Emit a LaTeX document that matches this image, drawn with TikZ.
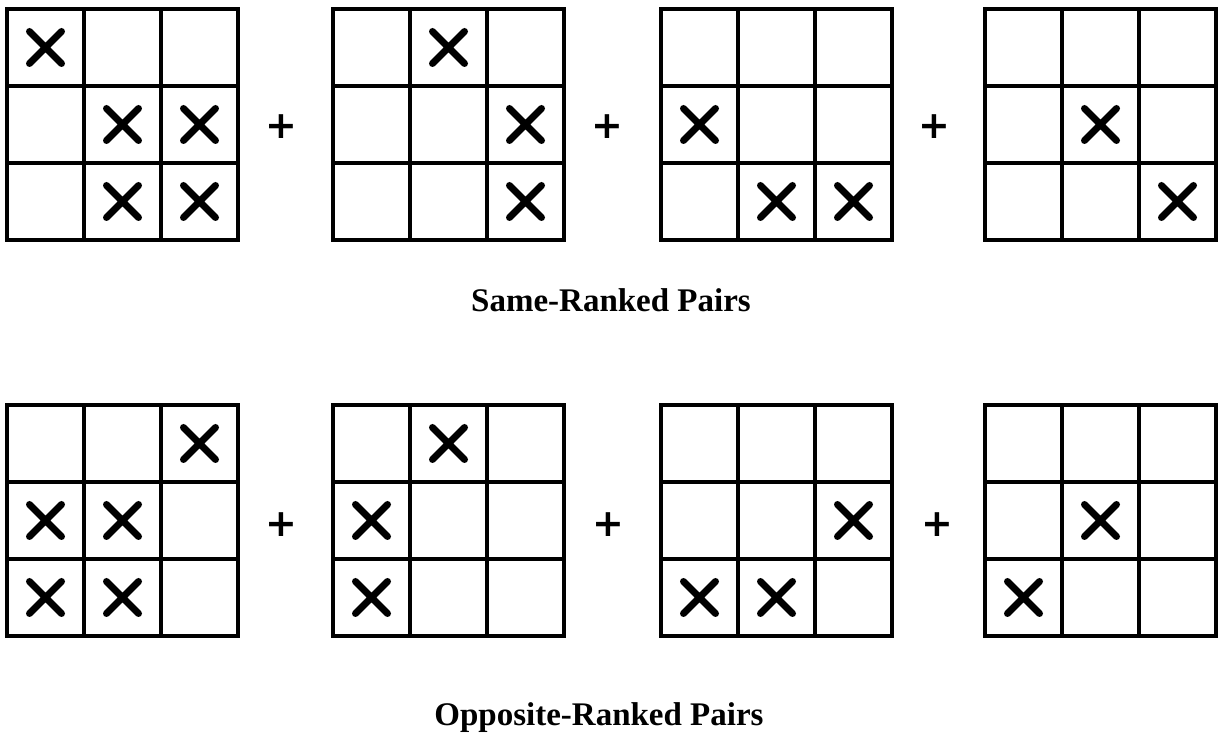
\documentclass[tikz,border=0pt]{standalone}
\usepackage{fontspec}
\setmainfont{Liberation Serif}
\newfontfamily\plusfont{DejaVu Sans}
\usepackage{tikz}
\usetikzlibrary{positioning}

% one 3x3 board: lower left corner, list of col/row cells holding a cross
\newcommand{\board}[3]{%
  \begin{scope}[shift={(#1,#2)}]
    \foreach \k in {1,2} {
      \draw[cellline] (\k*77,0) -- (\k*77,231);
      \draw[cellline] (0,\k*77) -- (231,\k*77);
    }
    \draw[frame] (0,0) rectangle (231,231);
    \foreach \c/\r in {#3}
      \draw[cross] ({(\c-.5)*77-16},{(3.5-\r)*77-16}) -- ++(32,32)
                   ({(\c-.5)*77-16},{(3.5-\r)*77+16}) -- ++(32,-32);
  \end{scope}}

\begin{document}
\begin{tikzpicture}[
  x=1pt, y=1pt,
  cellline/.style={line width=3.6pt},
  frame/.style={line width=4.4pt, line join=miter},
  cross/.style={line width=7pt, line cap=round},
  plus/.style={font=\plusfont\bfseries\fontsize{38}{38}\selectfont, inner sep=0pt},
  caption/.style={font=\bfseries\fontsize{33}{33}\selectfont, inner sep=0pt, anchor=base}
]
\useasboundingbox[fill=white] (0,0) rectangle (1223,744);

% same-ranked pairs
\board{7}{504}{1/1,2/2,3/2,2/3,3/3}
\board{333}{504}{2/1,3/2,3/3}
\board{661}{504}{1/2,2/3,3/3}
\board{985}{504}{2/2,3/3}
\node[plus] (sp1) at (281,617) {+};
\node[plus] (sp2) at (607,617) {+};
\node[plus] (sp3) at (934,617) {+};
\node[caption] (same) at (611,432) {Same-Ranked Pairs};

% opposite-ranked pairs
\board{7}{108}{3/1,1/2,2/2,1/3,2/3}
\board{333}{108}{2/1,1/2,1/3}
\board{661}{108}{3/2,1/3,2/3}
\board{985}{108}{2/2,1/3}
\node[plus] (op1) at (281,219) {+};
\node[plus] (op2) at (608,219) {+};
\node[plus] (op3) at (937,219) {+};
\node[caption] (opp) at (599,18) {Opposite-Ranked Pairs};
\end{tikzpicture}
\end{document}
